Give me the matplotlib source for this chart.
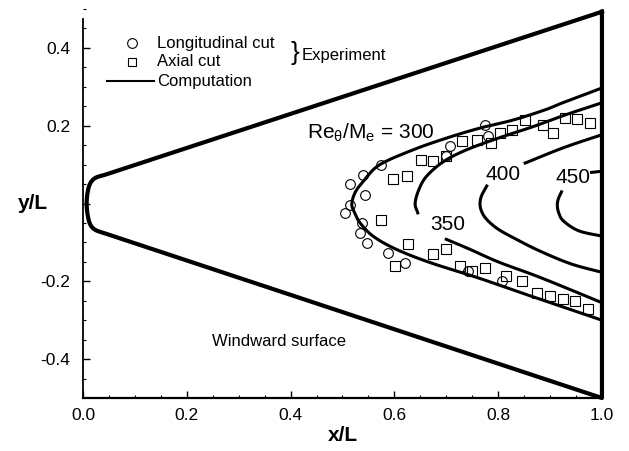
import numpy as np
import matplotlib
matplotlib.use('Agg')
import matplotlib.pyplot as plt
from matplotlib.ticker import MultipleLocator

plt.rcParams['font.family'] = ['Liberation Sans', 'DejaVu Sans']
plt.rcParams['mathtext.fontset'] = 'custom'
plt.rcParams['mathtext.rm'] = 'Liberation Sans'
plt.rcParams['mathtext.it'] = 'Liberation Sans'

# ---- body outline (x/L, y/L) ----
body_x = [1.0, 0.045, 0.024, 0.014, 0.009, 0.007, 0.009, 0.014, 0.024, 0.045, 1.0, 1.0]
body_y = [0.493, 0.075, 0.066, 0.052, 0.03, 0.0, -0.03, -0.054, -0.068, -0.078, -0.5, 0.493]

# ---- computed contours Re_theta/M_e ----
c300_x = [1.0, 0.93, 0.893, 0.83, 0.765, 0.70, 0.636, 0.572, 0.543, 0.525, 0.518,
          0.522, 0.534, 0.56, 0.604, 0.669, 0.759, 0.85, 0.93, 1.0]
c300_y = [0.297, 0.262, 0.242, 0.215, 0.194, 0.168, 0.138, 0.10, 0.062, 0.03, 0.0,
          -0.02, -0.05, -0.085, -0.118, -0.152, -0.19, -0.232, -0.268, -0.30]

c350a_x = [1.0, 0.93, 0.868, 0.80, 0.739, 0.695, 0.662, 0.647, 0.64, 0.645]
c350a_y = [0.259, 0.228, 0.198, 0.168, 0.138, 0.108, 0.07, 0.035, 0.0, -0.024]
c350b_x = [0.70, 0.746, 0.80, 0.875, 0.94, 1.0]
c350b_y = [-0.092, -0.118, -0.15, -0.187, -0.222, -0.255]

c400a_x = [0.778, 0.768, 0.765, 0.768, 0.778, 0.80, 0.835, 0.88, 0.94, 1.0]
c400a_y = [0.045, 0.02, 0.0, -0.02, -0.041, -0.066, -0.092, -0.122, -0.155, -0.177]
c400b_x = [0.852, 0.925, 1.0]
c400b_y = [0.104, 0.143, 0.177]

c450a_x = [0.922, 0.916, 0.914, 0.917, 0.926, 0.955, 1.0]
c450a_y = [0.03, 0.012, -0.005, -0.025, -0.045, -0.07, -0.084]
c450b_x = [0.98, 1.0]
c450b_y = [0.08, 0.083]

# ---- experiment ----
long_x = [0.775, 0.781, 0.707, 0.70, 0.575, 0.54, 0.514, 0.543, 0.514, 0.505,
          0.537, 0.534, 0.547, 0.588, 0.62, 0.742, 0.807]
long_y = [0.203, 0.173, 0.147, 0.121, 0.10, 0.074, 0.049, 0.023, -0.003, -0.024,
          -0.05, -0.075, -0.101, -0.127, -0.152, -0.174, -0.199]

axial_x = [0.977, 0.951, 0.929, 0.906, 0.887, 0.852, 0.826, 0.803, 0.787, 0.759,
           0.73, 0.70, 0.675, 0.652, 0.624, 0.598, 0.575, 0.627, 0.601, 0.675,
           0.70, 0.726, 0.749, 0.775, 0.816, 0.845, 0.874, 0.90, 0.925, 0.948, 0.974]
axial_y = [0.208, 0.217, 0.22, 0.181, 0.203, 0.215, 0.19, 0.181, 0.155, 0.164,
           0.16, 0.121, 0.109, 0.113, 0.07, 0.062, -0.043, -0.105, -0.161, -0.131,
           -0.118, -0.161, -0.174, -0.165, -0.186, -0.199, -0.229, -0.238, -0.246, -0.25, -0.272]

xticks = [0.0, 0.2, 0.4, 0.6, 0.8, 1.0]
xticklabels = ['0.0', '0.2', '0.4', '0.6', '0.8', '1.0']
yticks = [-0.4, -0.2, 0.0, 0.2, 0.4]
yticklabels = ['-0.4', '-0.2', '', '0.2', '0.4']


def catmull(xs, ys, n=12, pre=None, post=None):
    P = np.column_stack([xs, ys]).astype(float)
    if len(P) < 3 and pre is None:
        return P
    first = np.array(pre, float) if pre is not None else P[0] + (P[0] - P[1])
    last = np.array(post, float) if post is not None else P[-1] + (P[-1] - P[-2])
    P = np.vstack([first, P, last])
    out = []
    t = np.linspace(0, 1, n, endpoint=False)[:, None]
    for i in range(1, len(P) - 2):
        p0, p1, p2, p3 = P[i - 1], P[i], P[i + 1], P[i + 2]
        seg = 0.5 * ((2 * p1) + (-p0 + p2) * t + (2 * p0 - 5 * p1 + 4 * p2 - p3) * t ** 2
                     + (-p0 + 3 * p1 - 3 * p2 + p3) * t ** 3)
        out.append(seg)
    out.append(P[-2][None, :])
    return np.vstack(out)


def along(a, b, dist):
    a = np.array(a, float)
    b = np.array(b, float)
    d = b - a
    return a + d / np.hypot(*d) * dist


fig = plt.figure(figsize=(6.29, 4.51), dpi=100)
ax = fig.add_axes([0.132, 0.1175, 0.825, 0.8625])
ax.set_xlim(0, 1.0)
ax.set_ylim(-0.5, 0.5)

# body: straight segments + smooth nose (tangent to the straight lines)
up_start = (body_x[1], body_y[1])
lo_start = (body_x[9], body_y[9])
pre = along(up_start, (body_x[0], body_y[0]), 0.022)
post = along(lo_start, (body_x[10], body_y[10]), 0.022)
nose = catmull(body_x[1:10], body_y[1:10], pre=pre, post=post)
outline_x = np.concatenate([[body_x[0]], nose[:, 0], body_x[10:]])
outline_y = np.concatenate([[body_y[0]], nose[:, 1], body_y[10:]])
ax.plot(outline_x, outline_y, color='black', lw=3, solid_joinstyle='round', clip_on=False)

for cx, cy in [(c300_x, c300_y), (c350a_x, c350a_y), (c350b_x, c350b_y),
               (c400a_x, c400a_y), (c400b_x, c400b_y), (c450a_x, c450a_y), (c450b_x, c450b_y)]:
    p = catmull(cx, cy)
    ax.plot(p[:, 0], p[:, 1], color='black', lw=2.2, clip_on=False)

ax.plot(long_x, long_y, 'o', mfc='none', mec='black', ms=7, mew=0.8)
ax.plot(axial_x, axial_y, 's', mfc='none', mec='black', ms=6.5, mew=0.8)

# contour labels
ax.text(0.431, 0.182, r'Re$_{\theta}$/M$_{e}$ = 300', fontsize=15, va='center', ha='left')
ax.text(0.702, -0.054, '350', fontsize=15, va='center', ha='center')
ax.text(0.81, 0.074, '400', fontsize=15, va='center', ha='center')
ax.text(0.945, 0.066, '450', fontsize=15, va='center', ha='center')
ax.text(0.249, -0.356, 'Windward surface', fontsize=12, va='center', ha='left')

# legend (manual)
ax.plot([0.094], [0.412], 'o', mfc='none', mec='black', ms=7, mew=0.8)
ax.plot([0.094], [0.364], 's', mfc='none', mec='black', ms=6, mew=0.8)
ax.plot([0.046, 0.136], [0.314, 0.314], color='black', lw=1.5)
ax.text(0.142, 0.412, 'Longitudinal cut', fontsize=12, va='center', ha='left')
ax.text(0.142, 0.364, 'Axial cut', fontsize=12, va='center', ha='left')
ax.text(0.142, 0.314, 'Computation', fontsize=12, va='center', ha='left')
ax.text(0.400, 0.386, '}', fontsize=19, va='center', ha='left')
ax.text(0.421, 0.380, 'Experiment', fontsize=12, va='center', ha='left')

# axes styling
ax.spines['top'].set_visible(False)
ax.spines['right'].set_visible(False)
ax.spines['left'].set_bounds(-0.5, 0.475)
ax.spines['left'].set_linewidth(1.3)
ax.spines['bottom'].set_linewidth(1.6)
ax.set_xticks(xticks)
ax.set_xticklabels(xticklabels)
ax.set_yticks(yticks)
ax.set_yticklabels(yticklabels)
ax.xaxis.set_minor_locator(MultipleLocator(0.05))
ax.yaxis.set_minor_locator(MultipleLocator(0.05))
ax.tick_params(which='major', direction='in', length=5, width=1, labelsize=12.5, pad=7)
ax.tick_params(which='minor', direction='in', length=2.5, width=0.8)
ax.tick_params(axis='y', which='major', pad=9)

ax.set_xlabel('x/L', fontsize=15, fontweight='bold', labelpad=2)
ax.set_ylabel('y/L', fontsize=15, fontweight='bold', rotation=0, va='center', ha='center')
ax.yaxis.set_label_coords(-0.096, 0.5)

fig.savefig('out.png', dpi=100)
